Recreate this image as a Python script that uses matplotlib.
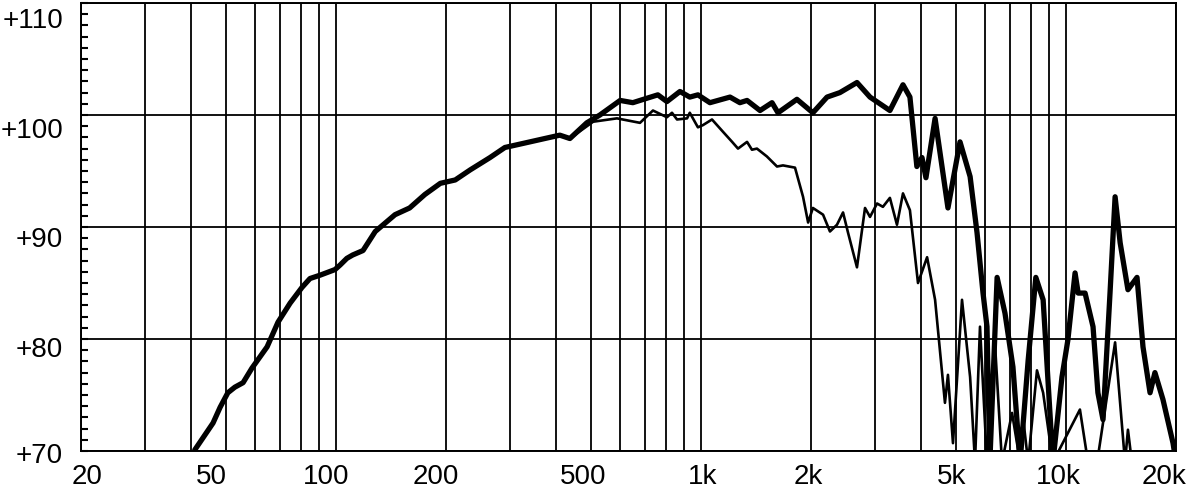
import matplotlib
matplotlib.use('Agg')
import matplotlib.pyplot as plt
import matplotlib.transforms as mtransforms
from matplotlib.ticker import LogLocator, MultipleLocator, FixedLocator, NullFormatter

# on-axis response (thick)
on_freq = [41.0, 42.4, 46.0, 48.1, 50.5, 52.8, 55.6, 58.8, 64.7, 69.3, 74.8, 80.6, 84.8,
           90.4, 99.3, 102.5, 107, 111, 118.5, 128, 145, 159, 175, 193, 212, 233, 264,
           290, 329, 373, 410, 437, 486, 528, 600, 650, 711, 761, 806, 875, 931, 980,
           1057, 1200, 1277, 1336, 1450, 1564, 1624, 1830, 2024, 2213, 2400, 2673, 2902,
           3290, 3573, 3733, 3900, 4028, 4130, 4375, 4745, 5120, 5457, 5700, 5920, 6070,
           6180, 6470, 6800, 7150, 7480, 7870, 8260, 8650, 9200, 9740, 10110, 10580,
           10790, 11270, 11850, 12220, 12620, 13190, 13620, 14060, 14770, 15640, 16240,
           16980, 17510, 18420, 19630, 20000]
on_db = [70.1, 70.8, 72.5, 73.9, 75.2, 75.7, 76.1, 77.4, 79.3, 81.5, 83.2, 84.6, 85.4,
         85.7, 86.2, 86.6, 87.2, 87.5, 87.9, 89.6, 91.1, 91.7, 92.9, 93.9, 94.2, 95.1, 96.2,
         97.1, 97.5, 97.9, 98.2, 97.9, 99.3, 100.0, 101.3, 101.1, 101.5, 101.8, 101.2, 102.1,
         101.6, 101.8, 101.1, 101.6, 101.1, 101.3, 100.4, 101.1, 100.2, 101.4, 100.2, 101.6,
         102.0, 102.9, 101.6, 100.4, 102.7, 101.6, 95.4, 96.2, 94.4, 99.7, 91.7, 97.6, 94.5,
         89.5, 84.1, 81.1, 69.0, 85.5, 82.3, 77.5, 69.0, 78.1, 85.5, 83.5, 69.0, 76.6, 79.9,
         85.9, 84.1, 84.1, 81.1, 75.2, 72.8, 84.1, 92.7, 88.6, 84.4, 85.5, 79.3, 75.2, 77.0,
         74.6, 70.7, 69.0]

# off-axis response (thin)
off_freq = [437, 506, 588, 680, 738, 806, 832, 859, 915, 931, 980, 1012, 1071, 1148, 1216,
            1262, 1336, 1378, 1422, 1514, 1614, 1676, 1808, 1902, 1964, 2024, 2158, 2254,
            2356, 2448, 2526, 2673, 2812, 2902, 3034, 3148, 3290, 3440, 3573, 3733, 3928,
            4160, 4375, 4656, 4745, 4898, 5185, 5457, 5628, 5808, 6070, 6383, 6672, 7110,
            7480, 7620, 7870, 8320, 8650, 9200, 10910, 11480, 12160, 13620, 14500, 14770,
            15140]
off_db = [97.9, 99.4, 99.7, 99.3, 100.4, 99.8, 100.2, 99.6, 99.7, 100.2, 98.9, 99.1, 99.6,
          98.5, 97.6, 97.0, 97.6, 96.9, 97.0, 96.3, 95.4, 95.5, 95.3, 92.7, 90.4, 91.7, 91.1,
          89.6, 90.2, 91.3, 89.5, 86.4, 91.7, 90.9, 92.1, 91.8, 92.6, 90.2, 93.0, 91.5, 85.0,
          87.3, 83.5, 74.3, 76.8, 70.7, 83.5, 76.6, 69.0, 81.1, 69.0, 79.6, 69.0, 73.4, 69.0,
          73.0, 69.0, 77.2, 75.2, 69.0, 73.7, 69.0, 69.0, 79.7, 69.0, 71.9, 69.0]

x_ticks = [20, 50, 100, 200, 500, 1000, 2000, 5000, 10000, 20000]
x_labels = ['20', '50', '100', '200', '500', '1k', '2k', '5k', '10k', '20k']
y_ticks = [70, 80, 90, 100, 110]
y_labels = ['+70', '+80', '+90', '+100', '+110']

fig = plt.figure(figsize=(11.86, 4.94), dpi=100)
ax = fig.add_axes([81/1186, 43/494, 1095/1186, 448/494])

ax.plot(off_freq, off_db, color='black', lw=1.9, solid_joinstyle='round', zorder=3)
ax.plot(on_freq, on_db, color='black', lw=3.8, solid_joinstyle='round',
        solid_capstyle='round', zorder=4)

ax.set_xscale('log')
ax.set_xlim(20, 20000)
ax.set_ylim(70, 110)

ax.xaxis.set_major_locator(FixedLocator(x_ticks))
ax.xaxis.set_minor_locator(LogLocator(base=10, subs=range(2, 10)))
ax.xaxis.set_minor_formatter(NullFormatter())
ax.set_xticklabels(x_labels, family=['Liberation Sans', 'DejaVu Sans'], fontsize=20)
ax.tick_params(axis='x', which='both', length=0, pad=9)

ax.yaxis.set_major_locator(FixedLocator(y_ticks))
ax.yaxis.set_minor_locator(MultipleLocator(1))
ax.set_yticklabels(y_labels, family=['Liberation Sans', 'DejaVu Sans'], fontsize=20)
ax.tick_params(axis='y', which='both', direction='in', length=5, width=1.5, pad=13)

ax.xaxis.grid(True, which='both', color='black', lw=1.3)
ax.yaxis.grid(True, which='major', color='black', lw=1.3)
ax.set_axisbelow(True)

for s in ax.spines.values():
    s.set_linewidth(1.4)

# the scanned original has its labels slightly off the grid lines (pixels)
y_shift = [2, 8, 10, 13, 15]
for lab, d in zip(ax.get_yticklabels(), y_shift):
    lab.set_transform(lab.get_transform() +
                      mtransforms.ScaledTranslation(0, -d/100, fig.dpi_scale_trans))
x_shift = [6, -15, -10, -10, -8, 2, -3, -5, -8, -12]
for lab, d in zip(ax.get_xticklabels(), x_shift):
    lab.set_transform(lab.get_transform() +
                      mtransforms.ScaledTranslation(d/100, 0, fig.dpi_scale_trans))

fig.savefig('out.png', dpi=100)
